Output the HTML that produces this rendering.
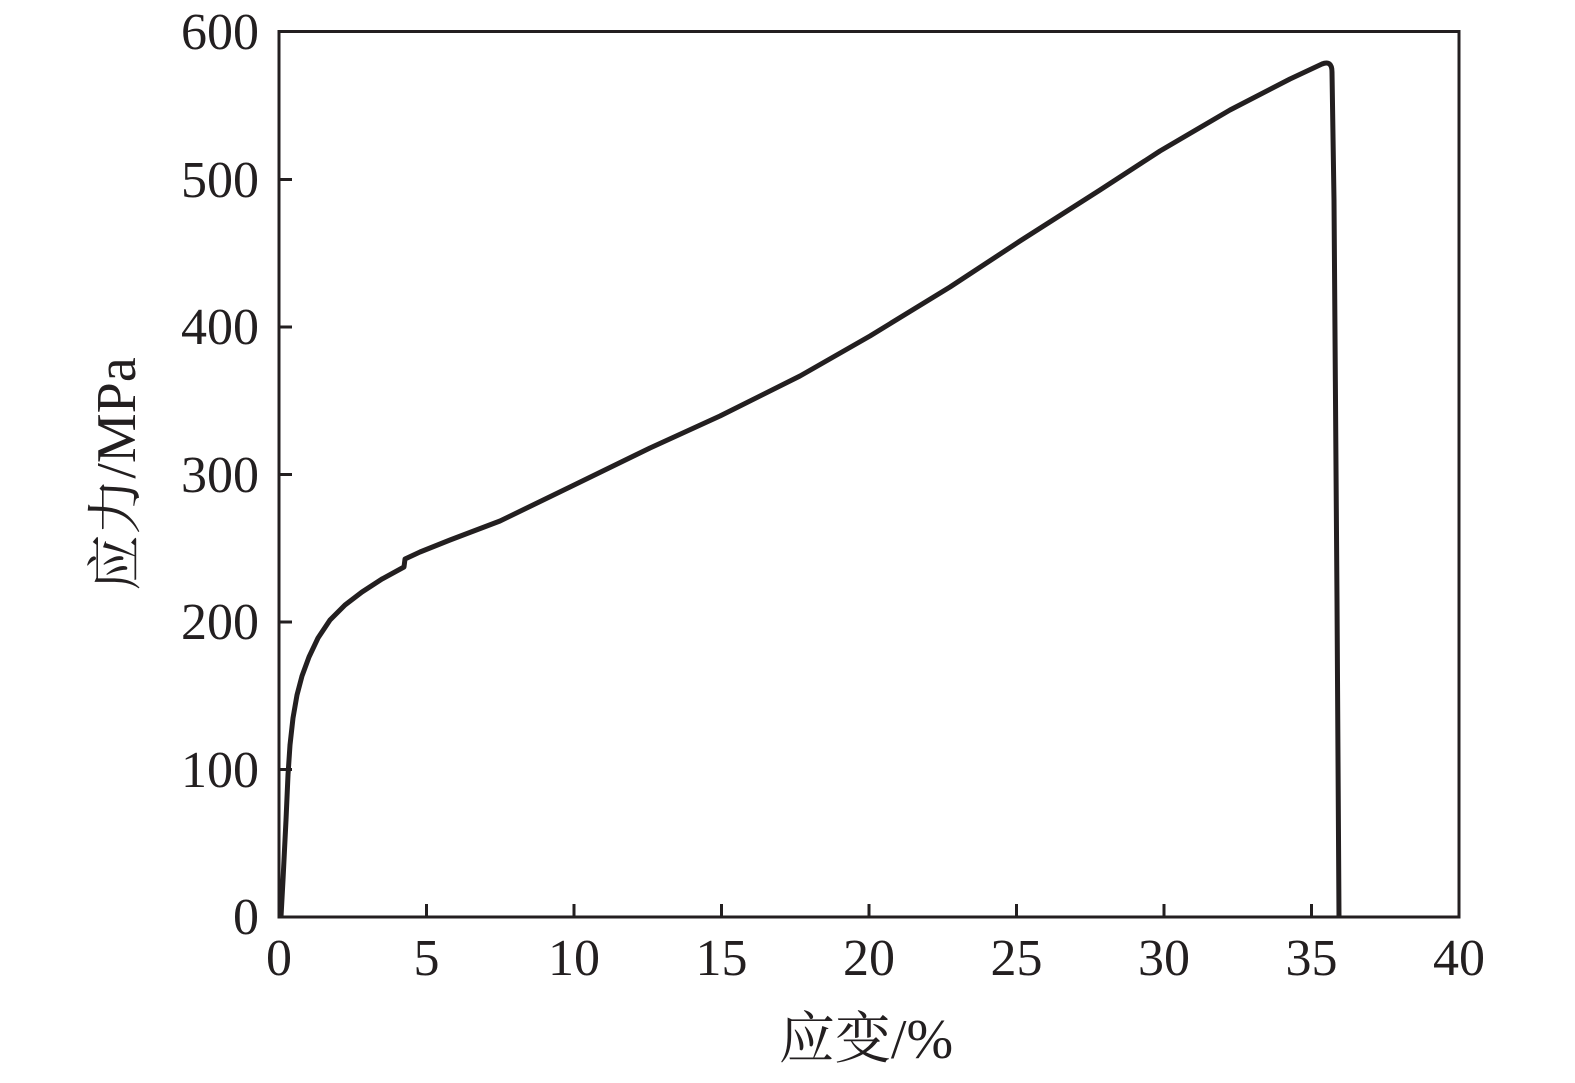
<!DOCTYPE html>
<html><head><meta charset="utf-8">
<style>
html,body{margin:0;padding:0;background:#fff;}
svg text{font-family:"Liberation Serif","Noto Serif CJK SC",serif;fill:#231f20;}
</style></head>
<body>
<svg width="1575" height="1078" viewBox="0 0 1575 1078" xmlns="http://www.w3.org/2000/svg">
<rect x="279" y="31.5" width="1180" height="885.5" fill="none" stroke="#231f20" stroke-width="3"/>
<g stroke="#231f20" stroke-width="3">
<line x1="426.5" y1="917" x2="426.5" y2="904"/>
<line x1="574" y1="917" x2="574" y2="904"/>
<line x1="721.5" y1="917" x2="721.5" y2="904"/>
<line x1="869" y1="917" x2="869" y2="904"/>
<line x1="1016.5" y1="917" x2="1016.5" y2="904"/>
<line x1="1164" y1="917" x2="1164" y2="904"/>
<line x1="1311.5" y1="917" x2="1311.5" y2="904"/>
<line x1="279" y1="769.5" x2="292" y2="769.5"/>
<line x1="279" y1="622" x2="292" y2="622"/>
<line x1="279" y1="474.5" x2="292" y2="474.5"/>
<line x1="279" y1="327" x2="292" y2="327"/>
<line x1="279" y1="179.5" x2="292" y2="179.5"/>
</g>
<g font-size="52" text-anchor="end">
<text x="259" y="934">0</text>
<text x="259" y="787">100</text>
<text x="259" y="639">200</text>
<text x="259" y="492">300</text>
<text x="259" y="344">400</text>
<text x="259" y="197">500</text>
<text x="259" y="49">600</text>
</g>
<g font-size="52" text-anchor="middle">
<text x="279" y="975">0</text>
<text x="426.5" y="975">5</text>
<text x="574" y="975">10</text>
<text x="721.5" y="975">15</text>
<text x="869" y="975">20</text>
<text x="1016.5" y="975">25</text>
<text x="1164" y="975">30</text>
<text x="1311.5" y="975">35</text>
<text x="1459" y="975">40</text>
</g>
<text x="866" y="1058" font-size="56" text-anchor="middle">应变/%</text>
<text transform="translate(135,474) rotate(-90)" font-size="56" text-anchor="middle">应力/MPa</text>
<path d="M281,917 L283,880 L286,820 L288,775 L290,745 L293,718 L297,695 L302,676 L309,657 L318,638 L330,620 L345,605 L362,592 L382,579 L404,567 L405,559 L420,552 L450,540 L500,521 L570,487 L650,448 L720,416 L800,376 L870,336 L950,287 L1020,241 L1100,190 L1160,151 L1230,110 L1290,79 L1322,64 Q1332,60 1332,72 L1334,200 L1337,600 L1339,917"
 fill="none" stroke="#231f20" stroke-width="5" stroke-linejoin="round"/>
</svg>
</body></html>
